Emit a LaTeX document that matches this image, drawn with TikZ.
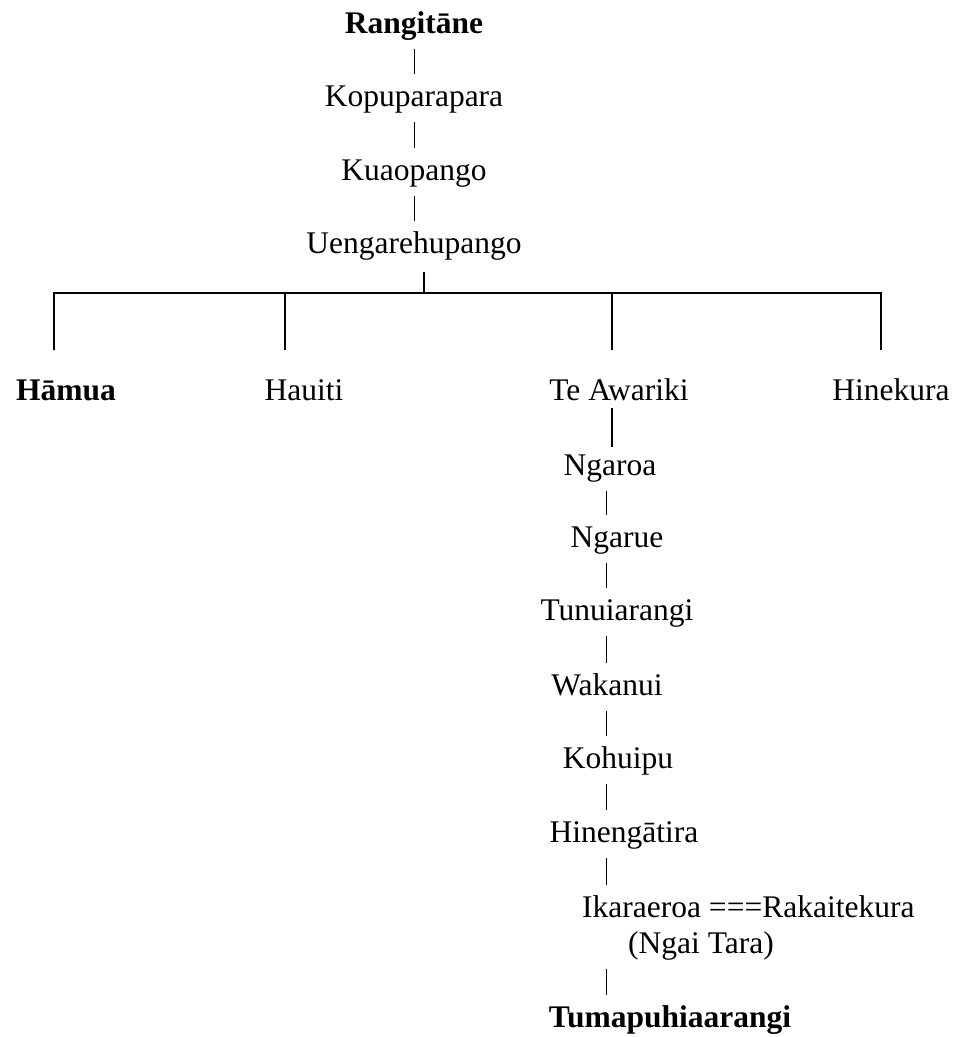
\documentclass[tikz,border=0pt]{standalone}
\usepackage{fontspec}
\setmainfont{Liberation Serif}
\usepackage{tikz}
\usetikzlibrary{positioning,calc}

\begin{document}
\begin{tikzpicture}[
        x=1pt, y=-1pt,
        nm/.style={font=\fontsize{31.5}{36}\selectfont, inner sep=0pt,
                   text height=22pt, text depth=8pt, anchor=base},
        bnm/.style={nm, font=\fontsize{31.5}{36}\selectfont\bfseries},
        bar/.style={line width=0.9pt, shorten <=8pt, shorten >=10pt},
        branch/.style={line width=2pt}
    ]
    \useasboundingbox (0,0) rectangle (968,1037);

    % top line
    \node[bnm] (rang) at (414,33)  {Rangitāne};
    \node[nm]  (kopu) at (414,106) {Kopuparapara};
    \node[nm]  (kuao) at (414,180) {Kuaopango};
    \node[nm]  (ueng) at (414,253) {Uengarehupango};

    \draw[bar] (rang) -- (kopu);
    \draw[bar] (kopu) -- (kuao);
    \draw[bar] (kuao) -- (ueng);

    % children
    \node[bnm] (hamua) at (66,400)  {Hāmua};
    \node[nm]  (hauiti) at (304,400) {Hauiti};
    \node[nm]  (awar) at (619,400)  {Te Awariki};
    \node[nm]  (hinek) at (891,400) {Hinekura};

    \coordinate (fork) at (424,293);
    \coordinate (c1) at (54,293);
    \coordinate (c4) at (881,293);
    \coordinate (d1) at (54,350);
    \coordinate (d2) at (285,350);
    \coordinate (d3) at (612,350);
    \coordinate (d4) at (881,350);

    \draw[branch, shorten <=11pt] (ueng.south -| fork) -- (fork);
    \draw[branch] (d1) -- (c1) -- (c4) -- (d4);
    \draw[branch] (d2) -- (d2 |- fork);
    \draw[branch] (d3) -- (d3 |- fork);

    % Te Awariki line
    \coordinate (spine) at (606,0);
    \node[nm] (ngaroa) at (610,475)  {Ngaroa};
    \node[nm] (ngarue) at (617,547)  {Ngarue};
    \node[nm] (tunui)  at (617,620)  {Tunuiarangi};
    \node[nm] (waka)   at (607,695)  {Wakanui};
    \node[nm] (kohu)   at (618,768)  {Kohuipu};
    \node[nm] (hineng) at (624,842)  {Hinengātira};
    \node[nm, anchor=base west] (ikara) at (582,917) {Ikaraeroa ===Rakaitekura};
    \node[nm, anchor=base west] (ngai)  at (628,953) {(Ngai Tara)};
    \node[bnm] (tuma)  at (670,1027) {Tumapuhiaarangi};

    \draw[branch, shorten >=6pt] (awar.south -| d3) -- (ngaroa.north -| d3);
    \draw[bar] (ngaroa.south -| spine) -- (ngarue.north -| spine);
    \draw[bar] (ngarue.south -| spine) -- (tunui.north -| spine);
    \draw[bar] (tunui.south -| spine) -- (waka.north -| spine);
    \draw[bar] (waka.south -| spine) -- (kohu.north -| spine);
    \draw[bar] (kohu.south -| spine) -- (hineng.north -| spine);
    \draw[bar] (hineng.south -| spine) -- (ikara.north -| spine);
    \draw[bar] (ngai.south -| spine) -- (tuma.north -| spine);
\end{tikzpicture}
\end{document}
